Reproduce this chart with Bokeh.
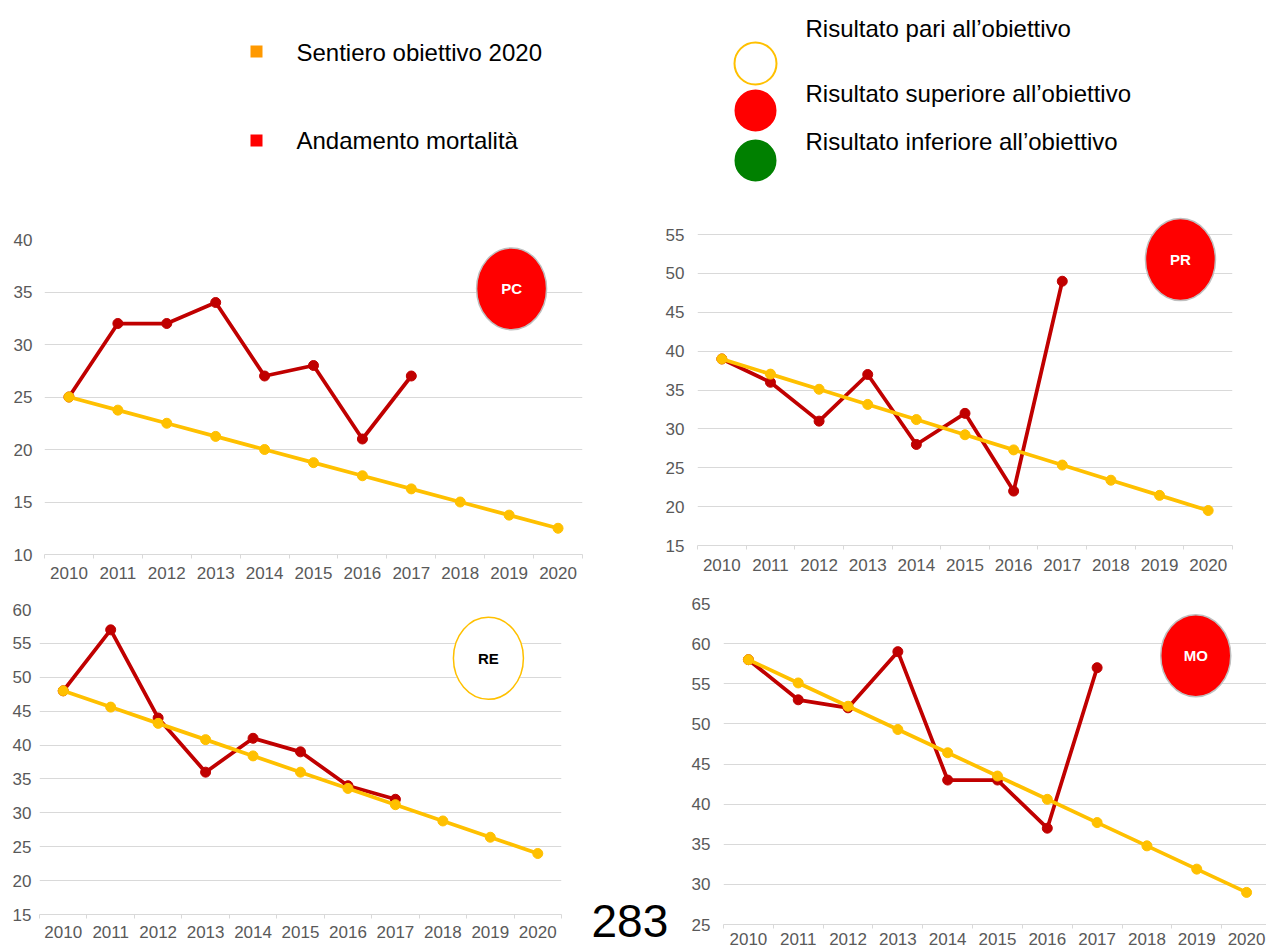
from bokeh.plotting import figure
from bokeh.models import Range1d, FixedTicker
from bokeh.layouts import column, row
from bokeh.core.properties import value
from bokeh.embed import file_html
from bokeh.resources import INLINE

# ---------------- data ----------------
years = [2010, 2011, 2012, 2013, 2014, 2015, 2016, 2017, 2018, 2019, 2020]
year_labels = [str(y) for y in years]
mort_years = [2010, 2011, 2012, 2013, 2014, 2015, 2016, 2017]

pc_mortality = [25, 32, 32, 34, 27, 28, 21, 27]
pc_target = [25, 23.75, 22.5, 21.25, 20, 18.75, 17.5, 16.25, 15, 13.75, 12.5]

pr_mortality = [39, 36, 31, 37, 28, 32, 22, 49]
pr_target = [39, 37.05, 35.1, 33.15, 31.2, 29.25, 27.3, 25.35, 23.4, 21.45, 19.5]

re_mortality = [48, 57, 44, 36, 41, 39, 34, 32]
re_target = [48, 45.6, 43.2, 40.8, 38.4, 36, 33.6, 31.2, 28.8, 26.4, 24]

mo_mortality = [58, 53, 52, 59, 43, 43, 37, 57]
mo_target = [58, 55.1, 52.2, 49.3, 46.4, 43.5, 40.6, 37.7, 34.8, 31.9, 29]

provinces = ["PC", "PR", "RE", "MO"]
province_status = ["superiore", "superiore", "pari", "superiore"]

legend_series = ["Sentiero obiettivo 2020", "Andamento mortalità"]
legend_status = ["Risultato pari all’obiettivo",
                 "Risultato superiore all’obiettivo",
                 "Risultato inferiore all’obiettivo"]
page_number = "283"

# ---------------- style ----------------
FONT = "Liberation Sans"
RED_LINE = "#C00000"
YELLOW = "#FFC000"
GRID = "#D9D9D9"
LABEL = "#595959"


def make_chart(name, status, mort, target, y_lo, y_hi, y_top, badge_xy, w, h,
               bl, br, bt, bb, x_end, xstand, ystand):
    p = figure(width=w, height=h, x_range=Range1d(2009.5, x_end),
               y_range=Range1d(y_lo, y_top), output_backend="svg",
               toolbar_location=None, min_border_left=bl, min_border_right=br,
               min_border_top=bt, min_border_bottom=bb, frame_align=False)
    p.outline_line_color = None
    p.background_fill_color = "white"
    p.border_fill_color = "white"
    yt = list(range(y_lo, y_hi + 1, 5))
    p.xgrid.visible = False
    p.ygrid.ticker = FixedTicker(ticks=yt)
    p.ygrid.grid_line_color = GRID
    p.ygrid.grid_line_width = 1

    ya = p.yaxis[0]
    ya.ticker = FixedTicker(ticks=yt)
    ya.axis_line_color = None
    ya.major_tick_line_color = None
    ya.major_tick_out = 0
    ya.major_tick_in = 0
    ya.minor_tick_line_color = None
    ya.minor_tick_out = 0
    ya.major_label_text_font = FONT
    ya.major_label_text_font_size = "17px"
    ya.major_label_text_color = LABEL
    ya.major_label_standoff = ystand

    xa = p.xaxis[0]
    xa.ticker = FixedTicker(ticks=years, minor_ticks=[y - 0.5 for y in years] + [years[-1] + 0.5])
    xa.major_label_overrides = {y: s for y, s in zip(years, year_labels)}
    xa.axis_line_color = GRID
    xa.axis_line_width = 1
    xa.major_tick_line_color = None
    xa.major_tick_out = 0
    xa.major_tick_in = 0
    xa.minor_tick_line_color = GRID
    xa.minor_tick_out = 4
    xa.minor_tick_in = 0
    xa.major_label_text_font = FONT
    xa.major_label_text_font_size = "17px"
    xa.major_label_text_color = LABEL
    xa.major_label_standoff = xstand

    n = len(mort)
    p.line(mort_years[:n], mort, line_color=RED_LINE, line_width=3.75)
    p.scatter(mort_years[:n], mort, size=10, fill_color=RED_LINE, line_color=RED_LINE)
    p.line(years, target, line_color=YELLOW, line_width=3.75)
    p.scatter(years, target, size=10, fill_color=YELLOW, line_color=YELLOW)

    bx, by = badge_xy
    if status == "pari":
        fill, edge, txt = "white", YELLOW, "black"
    elif status == "superiore":
        fill, edge, txt = "#FF0000", "#BFBFBF", "white"
    else:
        fill, edge, txt = "#008000", "#BFBFBF", "white"
    p.ellipse(x=[bx], y=[by], width=70, height=82, width_units="screen",
              height_units="screen", fill_color=fill, line_color=edge, line_width=1.5)
    p.text(x=[bx], y=[by], text=[name], text_align="center", text_baseline="middle",
           text_font=value(FONT), text_font_style="bold", text_font_size="15px",
           text_color=txt)
    return p


pc = make_chart(provinces[0], province_status[0], pc_mortality, pc_target, 10, 40, 40,
                (2019.05, 35.3), 640, 390, 44, 58, 39, 36, 2020.5, 8, 12)
pr = make_chart(provinces[1], province_status[1], pr_mortality, pr_target, 15, 55, 58.1,
                (2019.43, 51.8), 626, 390, 57, 34, 10, 45, 2020.5, 9, 13)
re_ = make_chart(provinces[2], province_status[2], re_mortality, re_target, 15, 60, 60,
                 (2018.96, 52.8), 583, 359, 39, 22, 19, 35, 2020.5, 7, 8)
mo = make_chart(provinces[3], province_status[3], mo_mortality, mo_target, 25, 65, 65,
                (2018.98, 58.5), 591, 359, 48, 0, 13, 25, 2020.4, 4, 13)

# ---------------- page number panel ----------------
pg = figure(width=92, height=359, x_range=Range1d(0, 92), y_range=Range1d(359, 0),
            output_backend="svg", toolbar_location=None, min_border=0,
            min_border_left=0, min_border_right=0, min_border_top=0, min_border_bottom=0,
            frame_align=False)
pg.axis.visible = False
pg.grid.visible = False
pg.outline_line_color = None
pg.text(x=[8], y=[330], text=[page_number], text_baseline="middle", text_align="left",
        text_font=value(FONT), text_font_size="46px", text_color="black")

# ---------------- legend panel ----------------
lg = figure(width=1266, height=200, x_range=Range1d(0, 1266), y_range=Range1d(200, 0),
            output_backend="svg", toolbar_location=None, min_border=0,
            min_border_left=0, min_border_right=0, min_border_top=0, min_border_bottom=0,
            frame_align=False)
lg.axis.visible = False
lg.grid.visible = False
lg.outline_line_color = None

lg.scatter(x=[256, 256], y=[51, 140], marker="square", size=12,
           fill_color=["#FF9900", "#FF0000"], line_color=None)
lg.text(x=[296, 296], y=[52, 140], text=legend_series, text_baseline="middle",
        text_align="left", text_font=value(FONT), text_font_size="24px", text_color="black")

lg.scatter(x=[755, 755, 755], y=[63, 110, 160], marker="circle", size=[42, 40, 40],
           fill_color=["white", "#FF0000", "#008000"],
           line_color=[YELLOW, "#FF0000", "#008000"], line_width=2)
lg.text(x=[805, 805, 805], y=[28, 93, 141], text=legend_status, text_baseline="middle",
        text_align="left", text_font=value(FONT), text_font_size="24px", text_color="black")

layout = column(lg, row(pc, pr, spacing=0), row(re_, pg, mo, spacing=0), spacing=0)

open("out.html", "w").write(file_html(layout, INLINE))
